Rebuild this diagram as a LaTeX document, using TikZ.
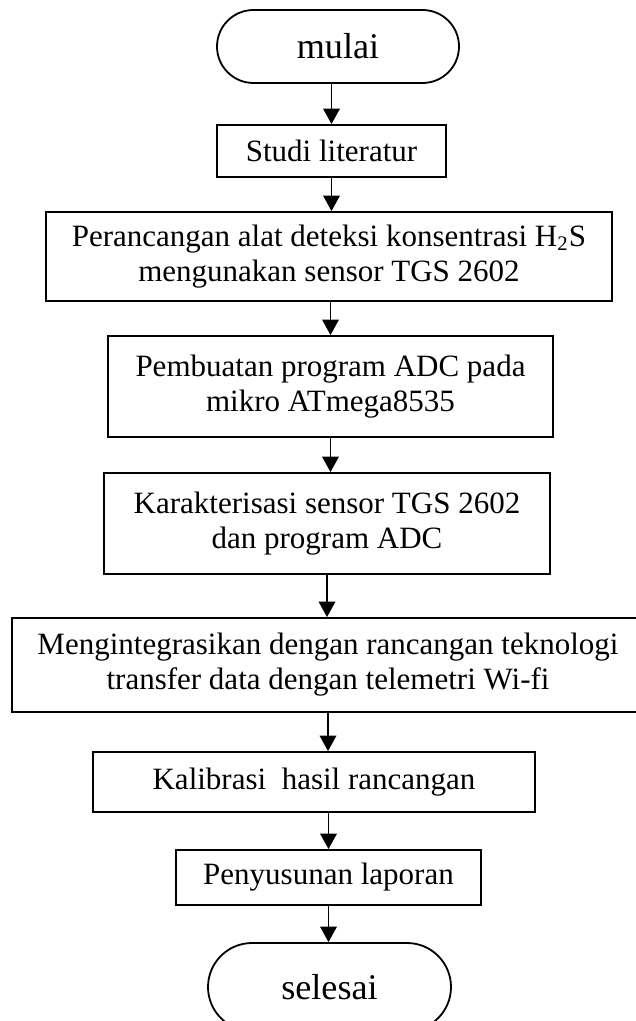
\documentclass[tikz,border=0pt]{standalone}
\usepackage{fontspec}
\setmainfont{Liberation Serif}
\usetikzlibrary{arrows.meta, shapes.misc}

% one unit of the picture
\newcommand{\upx}{0.3871pt}

\begin{document}
\begin{tikzpicture}[x=\upx, y=-\upx, line width=0.7pt,
    >={Triangle[length=6pt,width=6.4pt]}]
  \tikzset{
    proses/.style={draw, rectangle, align=center, inner sep=0pt,
      font=\fontsize{12}{13.6}\selectfont},
    terminal/.style={draw, rounded rectangle, inner sep=0pt,
      font=\fontsize{14}{16}\selectfont},
    ukuran/.style 2 args={minimum width=#1*\upx, minimum height=#2*\upx}
  }
  \useasboundingbox (0,0) rectangle (635,1021);

  \node[terminal, ukuran={242}{73}] (mulai) at (338,46.5) {mulai};
  \node[proses, ukuran={229}{52}] (studi) at (331.5,151) {Studi literatur};
  \node[proses, ukuran={566}{89}] (peranc) at (329,256.5)
    {Perancangan alat deteksi konsentrasi H\textsubscript{2}S\\ mengunakan sensor TGS 2602};
  \node[proses, ukuran={445}{101}] (buat) at (330.5,386.5)
    {Pembuatan program ADC pada\\ mikro ATmega8535};
  \node[proses, ukuran={446}{101}] (karakter) at (327,523.5)
    {Karakterisasi sensor TGS 2602\\ dan program ADC};
  \node[proses, ukuran={632}{94}] (integ) at (328,665)
    {Mengintegrasikan dengan rancangan teknologi\\ transfer data dengan telemetri Wi-fi};
  \node[proses, ukuran={442}{60}] (kalib) at (314,782) {Kalibrasi\ \ hasil rancangan};
  \node[proses, ukuran={305}{55}] (susun) at (328.5,877.5) {Penyusunan laporan};
  \node[terminal, ukuran={243}{88}] (selesai) at (329.5,987) {selesai};

  \path[->]
  (mulai.south -| studi) edge (studi)
  (studi)    edge (studi |- peranc.north)
  (peranc.south -| buat) edge (buat)
  (buat)     edge (buat |- karakter.north)
  (karakter) edge (karakter |- integ.north)
  (integ)    edge (integ |- kalib.north)
  (kalib.south -| susun) edge (susun)
  (susun)    edge (susun |- selesai.north);
\end{tikzpicture}
\end{document}
